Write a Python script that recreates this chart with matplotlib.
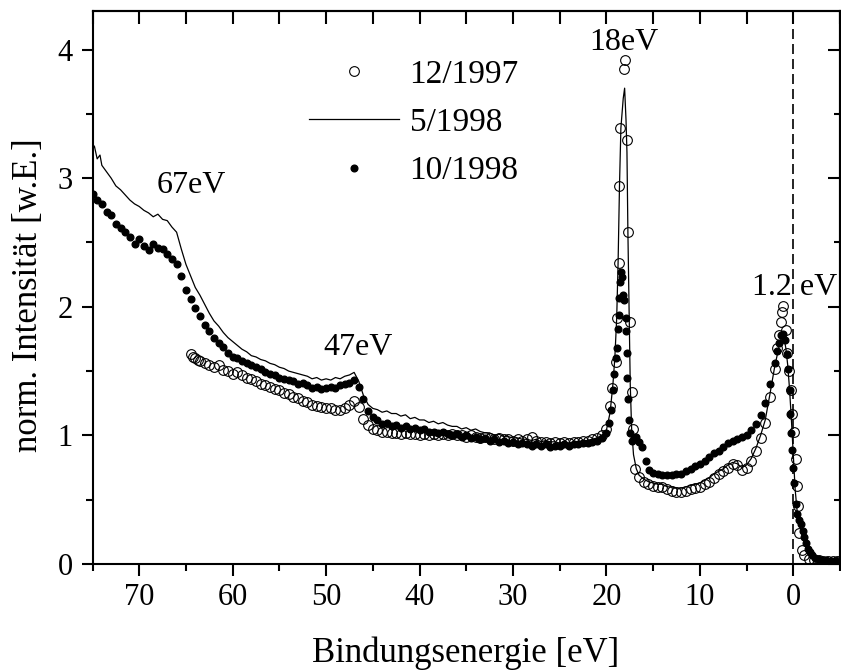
import matplotlib
matplotlib.use('Agg')
import matplotlib.pyplot as plt
from matplotlib.ticker import MultipleLocator, NullFormatter

plt.rcParams['font.family'] = ['Liberation Serif', 'DejaVu Serif']

# 12/1997 (open circles)
e_1297 = [64.5, 64.2, 64.0, 63.7, 63.5, 63.0, 62.5, 62.0, 61.5, 61.0, 60.5, 60.0, 59.5, 59.0,
          58.5, 58.0, 57.5, 57.0, 56.5, 56.0, 55.5, 55.0, 54.5, 54.0, 53.5, 53.0, 52.5, 52.0,
          51.5, 51.0, 50.5, 50.0, 49.5, 49.0, 48.5, 48.0, 47.5, 47.0, 46.5, 46.0, 45.5, 45.0,
          44.5, 44.0, 43.5, 43.0, 42.5, 42.0, 41.5, 41.0, 40.5, 40.0, 39.5, 39.0, 38.5, 38.0,
          37.5, 37.0, 36.5, 36.0, 35.5, 35.0, 34.5, 34.0, 33.5, 33.0, 32.5, 32.0, 31.5, 31.0,
          30.5, 30.0, 29.5, 29.0, 28.5, 28.0, 27.5, 27.0, 26.5, 26.0, 25.5, 25.0, 24.5, 24.0,
          23.5, 23.0, 22.5, 22.0, 21.5, 21.0, 20.5, 20.0, 19.6, 19.4, 19.0, 18.9, 18.7, 18.6,
          18.5, 18.1, 18.0, 17.8, 17.7, 17.5, 17.3, 17.2, 16.9, 16.5, 16.0, 15.5, 15.0, 14.5,
          14.0, 13.5, 13.0, 12.5, 12.0, 11.5, 11.0, 10.5, 10.0, 9.5, 9.0, 8.5, 8.0, 7.5,
          7.0, 6.5, 6.0, 5.5, 5.0, 4.5, 4.0, 3.5, 3.0, 2.5, 2.0, 1.7, 1.5, 1.35,
          1.25, 1.15, 0.8, 0.64, 0.45, 0.28, 0.1, -0.08, -0.25, -0.43, -0.5, -0.6, -0.9, -1.2,
          -1.7, -2.2, -2.7, -3.2, -3.7, -4.2, -4.7, -5.0]
i_1297 = [1.63, 1.61, 1.60, 1.59, 1.58, 1.56, 1.55, 1.53, 1.55, 1.51, 1.50, 1.48, 1.49, 1.47,
          1.45, 1.44, 1.42, 1.40, 1.39, 1.38, 1.36, 1.35, 1.33, 1.32, 1.30, 1.29, 1.27, 1.26,
          1.24, 1.23, 1.22, 1.21, 1.21, 1.20, 1.20, 1.21, 1.24, 1.27, 1.22, 1.13, 1.08, 1.05,
          1.04, 1.03, 1.03, 1.02, 1.02, 1.01, 1.02, 1.01, 1.01, 1.00, 1.01, 1.00, 1.01, 1.00,
          1.01, 1.00, 1.01, 1.00, 1.00, 0.99, 1.00, 0.99, 0.98, 0.99, 0.98, 0.97, 0.98, 0.97,
          0.97, 0.96, 0.97, 0.96, 0.97, 0.99, 0.96, 0.95, 0.95, 0.94, 0.95, 0.94, 0.95, 0.94,
          0.95, 0.95, 0.96, 0.96, 0.97, 0.98, 1.00, 1.05, 1.23, 1.37, 1.57, 1.91, 2.34, 2.94,
          3.39, 3.85, 3.92, 3.30, 2.58, 1.88, 1.34, 1.05, 0.74, 0.68, 0.64, 0.62, 0.61, 0.60,
          0.60, 0.58, 0.57, 0.56, 0.56, 0.57, 0.58, 0.59, 0.60, 0.62, 0.64, 0.67, 0.70, 0.72,
          0.75, 0.78, 0.77, 0.73, 0.75, 0.80, 0.88, 0.98, 1.10, 1.30, 1.52, 1.68, 1.78, 1.88,
          1.96, 2.01, 1.82, 1.64, 1.50, 1.35, 1.17, 1.03, 0.82, 0.61, 0.45, 0.24, 0.11, 0.07,
          0.04, 0.03, 0.03, 0.02, 0.02, 0.02, 0.02, 0.02]

# 5/1998 (line)
e_598 = [75.0, 74.8, 74.5, 74.2, 74.0, 73.5, 73.0, 72.5, 72.0, 71.5, 71.0, 70.5, 70.0, 69.5,
         69.0, 68.5, 68.0, 67.5, 67.0, 66.5, 66.0, 65.5, 65.0, 64.5, 64.0, 63.5, 63.0, 62.5,
         62.0, 61.5, 61.0, 60.5, 60.0, 59.5, 59.0, 58.5, 58.0, 57.5, 57.0, 56.5, 56.0, 55.5,
         55.0, 54.5, 54.0, 53.5, 53.0, 52.5, 52.0, 51.5, 51.0, 50.5, 50.0, 49.5, 49.0, 48.5,
         48.0, 47.5, 47.0, 46.5, 46.0, 45.5, 45.0, 44.5, 44.0, 43.5, 43.0, 42.5, 42.0, 41.5,
         41.0, 40.5, 40.0, 39.5, 39.0, 38.5, 38.0, 37.5, 37.0, 36.5, 36.0, 35.5, 35.0, 34.5,
         34.0, 33.5, 33.0, 32.5, 32.0, 31.5, 31.0, 30.5, 30.0, 29.5, 29.0, 28.5, 28.0, 27.5,
         27.0, 26.5, 26.0, 25.5, 25.0, 24.5, 24.0, 23.5, 23.0, 22.5, 22.0, 21.5, 21.0, 20.5,
         20.0, 19.6, 19.3, 19.1, 18.9, 18.75, 18.6, 18.45, 18.2, 18.05, 17.9, 17.8, 17.7, 17.55,
         17.45, 17.3, 17.1, 16.8, 16.5, 16.0, 15.5, 15.0, 14.5, 14.0, 13.5, 13.0, 12.5, 12.0,
         11.5, 11.0, 10.5, 10.0, 9.5, 9.0, 8.5, 8.0, 7.5, 7.0, 6.5, 6.0, 5.5, 5.0,
         4.5, 4.0, 3.5, 3.0, 2.5, 2.0, 1.5, 1.2, 1.0, 0.8, 0.6, 0.4, 0.2, 0.0,
         -0.2, -0.4, -0.6, -0.8, -1.0, -1.3, -1.6, -2.0, -2.5, -3.0, -4.0, -5.0]
i_598 = [3.22, 3.25, 3.15, 3.18, 3.10, 3.05, 3.00, 2.94, 2.91, 2.87, 2.83, 2.80, 2.78, 2.75,
         2.73, 2.70, 2.72, 2.68, 2.67, 2.62, 2.58, 2.45, 2.33, 2.24, 2.15, 2.09, 2.02, 1.95,
         1.89, 1.85, 1.80, 1.76, 1.73, 1.70, 1.67, 1.65, 1.62, 1.61, 1.59, 1.58, 1.56, 1.55,
         1.53, 1.52, 1.50, 1.49, 1.48, 1.47, 1.46, 1.44, 1.45, 1.43, 1.44, 1.43, 1.45, 1.44,
         1.46, 1.47, 1.49, 1.42, 1.31, 1.24, 1.21, 1.20, 1.18, 1.19, 1.17, 1.17, 1.15, 1.16,
         1.13, 1.14, 1.12, 1.12, 1.10, 1.11, 1.09, 1.10, 1.08, 1.07, 1.07, 1.05, 1.06, 1.04,
         1.05, 1.03, 1.02, 1.02, 1.00, 1.01, 0.99, 0.99, 0.98, 0.98, 0.97, 0.97, 0.96, 0.97,
         0.95, 0.96, 0.95, 0.95, 0.94, 0.95, 0.94, 0.95, 0.95, 0.96, 0.96, 0.97, 0.98, 1.00,
         1.04, 1.18, 1.40, 1.60, 1.91, 2.34, 2.94, 3.39, 3.62, 3.70, 3.45, 3.20, 2.58, 1.88,
         1.40, 1.05, 0.85, 0.74, 0.69, 0.66, 0.64, 0.63, 0.62, 0.62, 0.60, 0.60, 0.59, 0.59,
         0.60, 0.61, 0.62, 0.63, 0.65, 0.67, 0.70, 0.72, 0.74, 0.77, 0.79, 0.78, 0.75, 0.77,
         0.82, 0.90, 1.00, 1.12, 1.32, 1.53, 1.70, 1.78, 1.76, 1.68, 1.55, 1.36, 1.12, 0.85,
         0.58, 0.42, 0.34, 0.27, 0.21, 0.14, 0.08, 0.05, 0.03, 0.03, 0.02, 0.02]

# 10/1998 (filled dots)
e_1098 = [75.0, 74.5, 74.0, 73.5, 73.0, 72.5, 72.0, 71.5, 71.0, 70.5, 70.0, 69.5, 69.0, 68.5,
          68.0, 67.5, 67.0, 66.5, 66.0, 65.5, 65.0, 64.5, 64.0, 63.5, 63.0, 62.5, 62.0, 61.5,
          61.0, 60.5, 60.0, 59.5, 59.0, 58.5, 58.0, 57.5, 57.0, 56.5, 56.0, 55.5, 55.0, 54.5,
          54.0, 53.5, 53.0, 52.5, 52.0, 51.5, 51.0, 50.5, 50.0, 49.5, 49.0, 48.5, 48.0, 47.5,
          47.0, 46.5, 46.0, 45.5, 45.0, 44.5, 44.0, 43.5, 43.0, 42.5, 42.0, 41.5, 41.0, 40.5,
          40.0, 39.5, 39.0, 38.5, 38.0, 37.5, 37.0, 36.5, 36.0, 35.5, 35.0, 34.5, 34.0, 33.5,
          33.0, 32.5, 32.0, 31.5, 31.0, 30.5, 30.0, 29.5, 29.0, 28.5, 28.0, 27.5, 27.0, 26.5,
          26.0, 25.5, 25.0, 24.5, 24.0, 23.5, 23.0, 22.5, 22.0, 21.5, 21.0, 20.5, 20.0, 19.75,
          19.5, 19.3, 19.2, 19.0, 18.85, 18.8, 18.7, 18.6, 18.5, 18.4, 18.3, 18.2, 18.1, 17.95,
          17.85, 17.8, 17.75, 17.65, 17.55, 17.45, 17.25, 17.0, 16.8, 16.5, 16.2, 15.8, 15.4, 15.0,
          14.5, 14.0, 13.5, 13.0, 12.5, 12.0, 11.5, 11.0, 10.5, 10.0, 9.5, 9.0, 8.5, 8.0,
          7.5, 7.0, 6.5, 6.0, 5.5, 5.0, 4.5, 4.0, 3.5, 3.0, 2.5, 2.0, 1.7, 1.5,
          1.3, 1.1, 0.9, 0.7, 0.55, 0.4, 0.3, 0.2, 0.1, 0.0, -0.1, -0.25, -0.45, -0.65,
          -0.8, -1.0, -1.2, -1.4, -1.6, -1.8, -2.0, -2.3, -2.6, -3.0, -3.5, -4.0, -4.5, -5.0]
i_1098 = [2.88, 2.83, 2.80, 2.74, 2.71, 2.64, 2.61, 2.58, 2.54, 2.49, 2.53, 2.47, 2.44, 2.49,
          2.46, 2.45, 2.41, 2.37, 2.33, 2.24, 2.13, 2.06, 1.99, 1.93, 1.86, 1.81, 1.76, 1.72,
          1.69, 1.64, 1.61, 1.60, 1.58, 1.56, 1.55, 1.53, 1.52, 1.49, 1.48, 1.47, 1.45, 1.44,
          1.43, 1.42, 1.40, 1.41, 1.39, 1.37, 1.38, 1.36, 1.37, 1.38, 1.37, 1.39, 1.40, 1.41,
          1.43, 1.38, 1.28, 1.19, 1.14, 1.12, 1.09, 1.10, 1.07, 1.08, 1.06, 1.07, 1.05, 1.06,
          1.04, 1.05, 1.03, 1.03, 1.02, 1.03, 1.01, 1.00, 1.01, 0.99, 1.00, 0.98, 0.99, 0.97,
          0.98, 0.96, 0.97, 0.95, 0.96, 0.94, 0.95, 0.93, 0.94, 0.93, 0.92, 0.93, 0.92, 0.93,
          0.91, 0.92, 0.92, 0.93, 0.92, 0.93, 0.93, 0.94, 0.94, 0.95, 0.96, 0.98, 1.02, 1.10,
          1.20, 1.35, 1.48, 1.60, 1.68, 1.83, 1.94, 2.07, 2.19, 2.27, 2.23, 2.09, 2.05, 1.91,
          1.81, 1.64, 1.45, 1.28, 1.12, 1.02, 0.96, 0.98, 0.99, 0.95, 0.91, 0.80, 0.73, 0.71,
          0.70, 0.69, 0.69, 0.69, 0.70, 0.70, 0.72, 0.74, 0.76, 0.78, 0.80, 0.83, 0.86, 0.88,
          0.91, 0.94, 0.96, 0.97, 0.99, 1.00, 1.04, 1.09, 1.16, 1.25, 1.40, 1.56, 1.66, 1.72,
          1.78, 1.79, 1.74, 1.63, 1.52, 1.35, 1.17, 1.02, 0.89, 0.75, 0.63, 0.47, 0.39, 0.34,
          0.31, 0.26, 0.21, 0.16, 0.12, 0.09, 0.07, 0.05, 0.04, 0.03, 0.03, 0.02, 0.02, 0.02]

labels = ['12/1997', '5/1998', '10/1998']

fig = plt.figure(figsize=(8.41, 6.70), dpi=100)
ax = fig.add_axes([92.5 / 841, 106 / 670, 747.5 / 841, 553 / 670])

ax.plot(e_1297, i_1297, 'o', mfc='none', mec='black', ms=7, mew=0.8, label=labels[0])
ax.plot(e_598, i_598, '-', color='black', lw=0.9, label=labels[1])
ax.plot(e_1098, i_1098, 'o', color='black', ms=4.8, label=labels[2])

ax.axvline(0, color='black', lw=1.2, ls=(0, (6, 3)))

ax.set_xlim(75, -5)
ax.set_ylim(0, 4.3)

ax.xaxis.set_major_locator(MultipleLocator(10))
ax.xaxis.set_minor_locator(MultipleLocator(5))
ax.yaxis.set_major_locator(MultipleLocator(1))
ax.yaxis.set_minor_locator(MultipleLocator(0.5))
ax.tick_params(axis='x', which='major', direction='out', length=8.5, width=1.5,
               labelsize=22, pad=5, top=False)
ax.tick_params(axis='x', which='minor', direction='out', length=5, width=1.5, top=False)
ax.tick_params(axis='y', which='major', direction='out', length=8, width=1.5,
               labelsize=22, pad=6, right=False)
ax.tick_params(axis='y', which='minor', direction='out', length=5, width=1.5, right=False)
for sp in ax.spines.values():
    sp.set_linewidth(1.5)

# inward ticks on top and right
top = ax.secondary_xaxis('top')
top.xaxis.set_major_locator(MultipleLocator(5))
top.xaxis.set_major_formatter(NullFormatter())
top.tick_params(direction='in', length=9, width=1.5)
top.spines['top'].set_linewidth(1.5)
right = ax.secondary_yaxis('right')
right.yaxis.set_major_locator(MultipleLocator(1))
right.yaxis.set_minor_locator(MultipleLocator(0.5))
right.yaxis.set_major_formatter(NullFormatter())
right.tick_params(which='major', direction='in', length=9, width=1.5)
right.tick_params(which='minor', direction='in', length=4.5, width=1.5)
right.spines['right'].set_linewidth(1.5)

ax.set_xlabel('Bindungsenergie [eV]', fontsize=25)
ax.xaxis.set_label_coords(0.499, -0.132)
ax.set_ylabel('norm. Intensität [w.E.]', fontsize=25)
ax.yaxis.set_label_coords(-0.064, 0.486)

ax.text(64.4, 2.885, '67eV', fontsize=23, ha='center', va='baseline')
ax.text(46.6, 1.625, '47eV', fontsize=23, ha='center', va='baseline')
ax.text(18.15, 4.0, '18eV', fontsize=23, ha='center', va='baseline')
ax.text(-0.12, 2.09, '1.2 eV', fontsize=23, ha='center', va='baseline', clip_on=False)

ax.legend(loc='upper left', bbox_to_anchor=(0.289, 0.9125), frameon=False, fontsize=24,
          handlelength=2.7, handletextpad=0.33, labelspacing=0.53, borderpad=0,
          borderaxespad=0, numpoints=1)

fig.savefig('out.png', dpi=100)
